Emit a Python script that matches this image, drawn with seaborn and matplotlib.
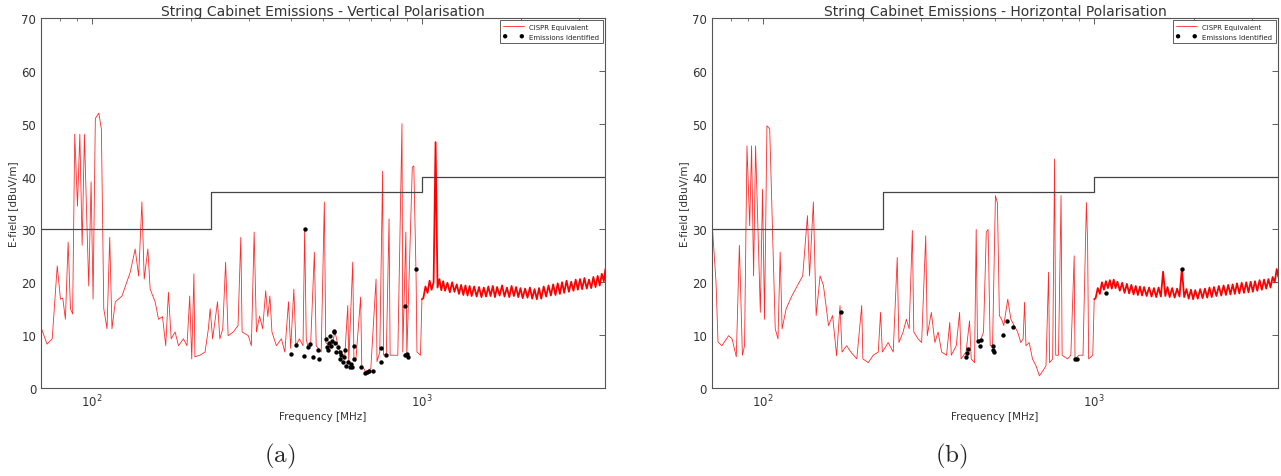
import numpy as np
import pandas as pd
import seaborn as sns
import matplotlib.pyplot as plt

# limit line (step)
limit_freq = [70, 230, 230, 1000, 1000, 3600]
limit_level = [30, 30, 37, 37, 40, 40]

# shared frequency grid for the 1-3.6 GHz band
band_freq = [1010, 1025, 1040, 1055, 1070, 1085, 1100, 1115, 1130, 1145, 1160, 1175,
             1195, 1215, 1235, 1255, 1275, 1295, 1315, 1335, 1355, 1375, 1395, 1415,
             1440, 1465, 1490, 1515, 1540, 1565, 1590, 1615, 1640, 1665, 1690,
             1720, 1750, 1780, 1810, 1840, 1870, 1900, 1930, 1960, 1990, 2020,
             2055, 2090, 2125, 2160, 2195, 2230, 2265, 2300,
             2340, 2380, 2420, 2460, 2500, 2540, 2580, 2620, 2660, 2700,
             2745, 2790, 2835, 2880, 2925, 2970, 3015, 3060,
             3110, 3160, 3210, 3260, 3310, 3360, 3410, 3460, 3510, 3560, 3600]

# vertical polarisation
v_freq = [70, 73, 75.7, 78.4, 80.2, 81.5, 83, 84.6, 86, 87.3, 88.6, 90.3, 91.8, 93.3, 94.8,
          96.6, 97.7, 99.3, 100.7, 102.3, 104.8, 106.7, 108.5, 111, 113.1, 114.9, 117.6,
          123.2, 130.5, 135.1, 138.4, 141.6, 143.9, 147.6, 150, 155.3, 159, 163.5, 167.2,
          170.4, 173.7, 178.5, 182.8, 189.2, 194, 197.7, 200.5, 203.6, 205, 212.3, 220,
          225.2, 228, 232, 240, 244, 249, 254, 258.5, 268, 277, 282.4, 285, 297.6, 304,
          310, 315, 322, 329, 336, 341, 346, 351, 362, 375, 384, 394, 400, 409, 415, 425,
          436, 441, 446, 452, 460, 472, 478, 495, 506, 511, 530, 545, 563, 583, 596, 600,
          617, 622, 630, 652, 657, 676, 700, 726, 731, 745, 760, 765, 780, 795, 801, 845,
          870, 875, 894, 900, 935, 945, 960, 966, 990, 1000]
v_level = [11.5, 8.3, 9.3, 23.1, 16.8, 17, 13, 27.6, 15, 14, 48, 34.4, 48, 27, 48,
           29.5, 19.3, 39, 16.8, 51, 52, 49, 15, 11.2, 28.5, 11.2, 16.3,
           17.4, 21.9, 26.3, 21.2, 35.2, 20.6, 26.3, 18.7, 16.3, 13, 13.5, 8,
           18.1, 9.3, 10.6, 8, 9.3, 8, 17.4, 5.5, 21.6, 5.9, 6.2, 6.8,
           11.2, 15, 9.3, 16.3, 9.3, 11.2, 23.8, 9.9, 10.6, 11.8, 28.5, 10.6, 9.9, 8,
           29.5, 10.6, 13.6, 11.2, 18.4, 13.5, 17.4, 10.6, 8, 9.3, 6.8, 16.3, 7.5, 18.7, 8, 9.3,
           8, 30, 9.3, 7.5, 8.5, 25.7, 8, 6.8, 35.2, 8.6, 7.5, 10.6, 6.8, 5.6, 15.6, 5,
           23.8, 5.6, 5, 17.2, 4.3, 3, 3.7, 20.6, 5, 6.8, 41, 6.2, 6.5, 32, 6.2, 6.2,
           50, 6.8, 29.5, 6.2, 41.8, 42, 21.2, 6.8, 6.2, 16.8]
v_band = [17.0, 19.2, 18.0, 20.3, 18.6, 20.0, 46.5, 19.0, 20.6, 18.5, 20.2, 18.4,
          19.9, 18.1, 20.0, 18.2, 19.6, 17.8, 19.5, 17.6, 19.4, 17.5, 19.3, 17.4,
          19.2, 17.3, 19.1, 17.2, 19.0, 17.3, 19.2, 17.4, 19.3, 17.2, 19.1,
          17.5, 19.4, 17.3, 19.0, 17.2, 19.3, 17.4, 19.1, 17.2, 18.9, 17.0,
          18.8, 17.1, 19.0, 16.9, 18.7, 16.8, 18.9, 16.9,
          19.2, 17.3, 19.4, 17.5, 19.6, 17.6, 19.8, 17.8, 20.0, 18.0,
          20.3, 18.2, 20.1, 18.4, 20.5, 18.6, 20.6, 18.7,
          20.8, 18.8, 20.5, 18.9, 21.0, 19.1, 21.2, 19.4, 21.6, 20.2, 22.5]
v_em_freq = [402, 414, 439, 443, 450, 457, 466, 483, 489, 512, 515, 518, 521, 527, 531, 535,
             541, 543, 546, 550, 557, 563, 566, 570, 575, 580, 585, 590, 596, 604, 609, 615,
             621, 624, 655, 673, 680, 693, 709, 750, 752, 779, 886, 890, 900, 906, 961]
v_em_level = [6.4, 8.1, 6.1, 30, 7.8, 8.3, 5.9, 7.2, 5.5, 9.3, 7.8, 7.2, 8.6, 9.9, 8, 8.9,
              10.5, 10.8, 8.6, 6.8, 7.8, 6.8, 5.5, 6.2, 5, 5.9, 7.2, 4.2, 5, 3.9, 4.5, 3.9,
              8, 5.5, 3.9, 2.8, 3, 3.3, 3.3, 7.5, 5, 6.2, 15.6, 6.2, 6.5, 5.9, 22.5]

# horizontal polarisation
h_freq = [70, 72, 73, 75, 78.6, 80.5, 82.9, 84.7, 86.5, 87.8, 89.3, 91, 92.2, 93.5, 94.8,
          98, 99.5, 100.9, 102.6, 104.6, 106.7, 108.7, 110.8, 112.5, 114, 117.3, 122,
          126.9, 131.6, 136, 138, 141.7, 144.5, 148.5, 152, 157.5, 162, 166.6, 170.6, 173,
          178.6, 184, 191.7, 198.4, 200, 207.6, 215, 222.6, 226.2, 229, 238.5, 247, 254,
          257, 264.6, 270.6, 276, 282.2, 285, 293.7, 301, 309.7, 313, 322, 330, 337.5, 346,
          358, 366, 370, 383, 392, 396, 410, 420, 425, 435, 440, 444, 455, 463, 472, 478,
          485, 493, 503, 510, 517, 525, 533, 548, 560, 573, 587, 600, 610, 616, 622, 636,
          651, 667, 683, 699, 715, 728, 733, 749, 759, 765, 780, 794, 800, 831, 850, 870,
          875, 900, 925, 947, 955, 962, 990, 1000]
h_level = [31.6, 20, 8.7, 8, 9.9, 9.3, 5.9, 27, 6.2, 8, 45.8, 30.7, 45.8, 21.2, 45.8,
           14.3, 37.6, 13, 49.6, 49, 29.5, 11.2, 9.3, 25.7, 11.2, 15, 17.4,
           19.4, 21.2, 32.6, 21.2, 35.2, 13.7, 21.2, 19.4, 11.8, 13.7, 6.1, 15.6, 6.8,
           8, 6.8, 5.5, 15.6, 5.5, 4.8, 6.2, 6.8, 14.3, 6.8, 8.6, 6.8, 24.7,
           8.6, 10.6, 13, 11.2, 29.8, 10.6, 9.3, 8.6, 28.8, 9.9, 14.3, 8.6, 10.6, 6.8,
           6.2, 12.4, 6.2, 8, 14.3, 5.5, 6.8, 12.7, 5.5, 4.8, 30, 8.6, 9.3, 10.6, 29.5, 30,
           8, 8, 36.4, 35, 13.7, 13, 11.8, 16.8, 13, 11.8, 10.6, 8.6, 9.3, 16.2, 8, 8.6,
           5.5, 4.2, 2.3, 3.2, 4.2, 21.9, 4.8, 5.5, 43.3, 6.2, 6.2, 36.4, 6.2, 5.5, 6.2, 25,
           5.5, 6.2, 6.2, 35.1, 27.6, 5.5, 6.2, 16.8]
h_band = [17.0, 18.9, 17.8, 20.0, 18.6, 20.2, 18.9, 20.4, 18.8, 20.5, 18.9, 20.1,
          18.4, 19.9, 18.0, 19.7, 17.9, 19.5, 17.7, 19.3, 17.6, 19.2, 17.5, 19.1,
          17.4, 19.0, 17.3, 18.9, 17.2, 19.0, 17.3, 22.0, 17.4, 19.1, 17.2,
          18.9, 17.1, 18.8, 17.3, 22.5, 17.2, 18.7, 16.9, 18.6, 16.8, 18.5,
          16.9, 18.7, 17.0, 18.8, 17.1, 19.0, 17.2, 19.1,
          17.4, 19.3, 17.5, 19.4, 17.6, 19.5, 17.7, 19.6, 17.8, 19.8,
          17.9, 19.9, 18.0, 20.0, 18.1, 20.1, 18.2, 20.2,
          18.4, 20.4, 18.6, 20.5, 18.8, 20.6, 19.0, 21.0, 20.0, 22.5, 21.0]
h_em_freq = [171.6, 409, 412, 417, 446, 451, 456, 494, 496, 498, 532, 544, 570, 876, 889, 1088, 1840]
h_em_level = [14.3, 5.8, 6.6, 7.4, 8.8, 8, 9, 8, 7.2, 6.8, 10, 12.7, 11.5, 5.5, 5.5, 18, 22.5]

sns.set_style("white")
plt.rcParams.update({
    "font.family": ["DejaVu Sans"],
    "mathtext.fontset": "cm",
    "xtick.direction": "in", "ytick.direction": "in",
    "xtick.top": True, "ytick.right": True,
    "xtick.color": "#444444", "ytick.color": "#444444",
    "xtick.labelcolor": "#333333", "ytick.labelcolor": "#333333",
    "axes.edgecolor": "#555555",
})

fig = plt.figure(figsize=(12.81, 4.77), dpi=100)

panels = [
    ([0.032, 0.1845, 0.4403, 0.7757], "String Cabinet Emissions - Vertical Polarisation",
     v_freq, v_level, v_band, v_em_freq, v_em_level, "(a)", 0.218),
    ([0.5558, 0.1845, 0.4418, 0.7757], "String Cabinet Emissions - Horizontal Polarisation",
     h_freq, h_level, h_band, h_em_freq, h_em_level, "(b)", 0.743),
]

for pos, title, fq, lv, band, efq, elv, cap, cx in panels:
    ax = fig.add_axes(pos)
    sns.lineplot(x=fq, y=lv, ax=ax, color="#ff2a2a", lw=0.6, sort=False, estimator=None,
                 label="CISPR Equivalent")
    # dense 1-3.6 GHz part drawn heavier, as in the original
    sns.lineplot(x=fq[-1:] + band_freq, y=lv[-1:] + band, ax=ax, color="red", lw=1.3,
                 sort=False, estimator=None)
    sns.lineplot(x=limit_freq, y=limit_level, ax=ax, color="#444444", lw=0.9,
                 sort=False, estimator=None)
    sns.scatterplot(x=efq, y=elv, ax=ax, color="black", s=10, linewidth=0,
                    label="Emissions Identified", zorder=5)
    ax.set_xscale("log")
    ax.set_xlim(70, 3590)
    ax.set_ylim(0, 70)
    ax.set_yticks(range(0, 71, 10))
    ax.tick_params(labelsize=8.5, length=4, width=0.6)
    ax.tick_params(which="minor", length=2, width=0.5)
    ax.set_title(title, fontsize=10, color="#333333", pad=2)
    ax.set_xlabel("Frequency [MHz]", fontsize=7.5, color="#333333", labelpad=1)
    ax.set_ylabel("E-field [dBuV/m]", fontsize=7.5, color="#333333", labelpad=2)
    for s in ax.spines.values():
        s.set_linewidth(0.8)
    leg = ax.legend(loc="upper right", fontsize=5, scatterpoints=2, scatteryoffsets=[0.5],
                    fancybox=False, edgecolor="#444444", borderaxespad=0.3,
                    handlelength=3, labelspacing=0.6, borderpad=0.5, framealpha=1)
    leg.get_frame().set_linewidth(0.6)
    fig.text(cx, 0.012, r"$\mathrm{" + cap + "}$", ha="center", va="bottom", fontsize=18)

fig.savefig("out.png", dpi=100)
